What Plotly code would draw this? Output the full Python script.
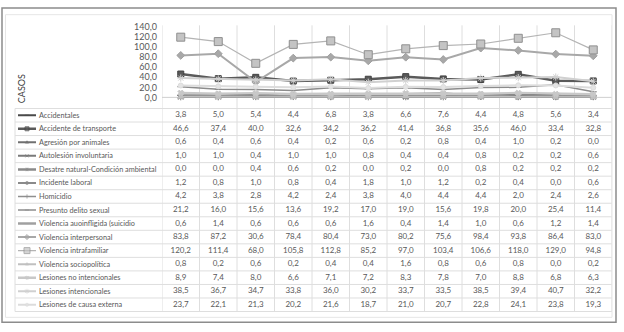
import plotly.graph_objects as go

W, H = 624, 332

months = ["ene", "feb", "mar", "abr", "may", "jun", "jul", "ago", "sep", "oct", "nov", "dic"]

series_names = [
    "Accidentales",
    "Accidente de transporte",
    "Agresión por animales",
    "Autolesión involuntaria",
    "Desatre natural-Condición ambiental",
    "Incidente laboral",
    "Homicidio",
    "Presunto delito sexual",
    "Violencia auoinfligida (suicidio",
    "Violencia interpersonal",
    "Violencia intrafamiliar",
    "Violencia sociopolítica",
    "Lesiones no intencionales",
    "Lesiones intencionales",
    "Lesiones de causa externa",
]

accidentales = [3.8, 5.0, 5.4, 4.4, 6.8, 3.8, 6.6, 7.6, 4.4, 4.8, 5.6, 3.4]
accidente_transporte = [46.6, 37.4, 40.0, 32.6, 34.2, 36.2, 41.4, 36.8, 35.6, 46.0, 33.4, 32.8]
agresion_animales = [0.6, 0.4, 0.6, 0.4, 0.2, 0.6, 0.2, 0.8, 0.4, 1.0, 0.2, 0.0]
autolesion_involuntaria = [1.0, 1.0, 0.4, 1.0, 1.0, 0.8, 0.4, 0.4, 0.8, 0.2, 0.2, 0.6]
desastre_natural = [0.0, 0.0, 0.4, 0.6, 0.2, 0.0, 0.2, 0.0, 0.8, 0.2, 0.2, 0.2]
incidente_laboral = [1.2, 0.8, 1.0, 0.8, 0.4, 1.8, 1.0, 1.2, 0.2, 0.4, 0.0, 0.6]
homicidio = [4.2, 3.8, 2.8, 4.2, 2.4, 3.8, 4.0, 4.4, 4.4, 2.0, 2.4, 2.6]
presunto_delito_sexual = [21.2, 16.0, 15.6, 13.6, 19.2, 17.0, 19.0, 15.6, 19.8, 20.0, 25.4, 11.4]
violencia_autoinfligida = [0.6, 1.4, 0.6, 0.6, 0.6, 1.6, 0.4, 1.4, 1.0, 0.6, 1.2, 1.4]
violencia_interpersonal = [83.8, 87.2, 30.6, 78.4, 80.4, 73.0, 80.2, 75.6, 98.4, 93.8, 86.4, 83.0]
violencia_intrafamiliar = [120.2, 111.4, 68.0, 105.8, 112.8, 85.2, 97.0, 103.4, 106.6, 118.0, 129.0, 94.8]
violencia_sociopolitica = [0.8, 0.2, 0.6, 0.2, 0.4, 0.4, 1.6, 0.8, 0.6, 0.8, 0.0, 0.2]
lesiones_no_intencionales = [8.9, 7.4, 8.0, 6.6, 7.1, 7.2, 8.3, 7.8, 7.0, 8.8, 6.8, 6.3]
lesiones_intencionales = [38.5, 36.7, 34.7, 33.8, 36.0, 30.2, 33.7, 33.5, 38.5, 39.4, 40.7, 32.2]
lesiones_causa_externa = [23.7, 22.1, 21.3, 20.2, 21.6, 18.7, 21.0, 20.7, 22.8, 24.1, 23.8, 19.3]

series_values = [
    accidentales, accidente_transporte, agresion_animales, autolesion_involuntaria,
    desastre_natural, incidente_laboral, homicidio, presunto_delito_sexual,
    violencia_autoinfligida, violencia_interpersonal, violencia_intrafamiliar,
    violencia_sociopolitica, lesiones_no_intencionales, lesiones_intencionales,
    lesiones_causa_externa,
]

y_ticks = [0, 20, 40, 60, 80, 100, 120, 140]
axis_title = "CASOS"

# styles: (line colour, line width, marker symbol, marker size, marker fill, marker outline)
styles = [
    ("#4a4a4a", 2.0, "line-ew", 5, "#4a4a4a", "#4a4a4a"),
    ("#5a5a5a", 2.5, "square", 6, "#5a5a5a", "#404040"),
    ("#707070", 2.0, "triangle-up", 5, "#707070", "#707070"),
    ("#7a7a7a", 2.0, "x-thin", 5, "#7a7a7a", "#7a7a7a"),
    ("#8a8a8a", 2.5, "asterisk", 5, "#8a8a8a", "#8a8a8a"),
    ("#8a8a8a", 2.0, "circle", 4, "#8a8a8a", "#8a8a8a"),
    ("#8f8f8f", 1.5, "cross-thin", 5, "#8f8f8f", "#8f8f8f"),
    ("#8c8c8c", 1.5, "line-ew", 5, "#8c8c8c", "#8c8c8c"),
    ("#a0a0a0", 2.5, "line-ew", 3, "#a0a0a0", "#a0a0a0"),
    ("#a8a8a8", 2.0, "diamond", 6, "#a8a8a8", "#a0a0a0"),
    ("#b4b4b4", 1.2, "square", 8, "#c4c4c4", "#8f8f8f"),
    ("#c0c0c0", 2.0, "triangle-up", 5, "#c0c0c0", "#c0c0c0"),
    ("#c8c8c8", 2.5, "x", 5, "#c8c8c8", "#c8c8c8"),
    ("#d0d0d0", 2.0, "asterisk", 6, "#d0d0d0", "#d0d0d0"),
    ("#dcdcdc", 2.0, "circle", 5, "#e4e4e4", "#dcdcdc"),
]

FONT = "Lato"
TXT = "#595959"
GRID = "#dedede"


def fx(p):
    return p / W


def fy(p):
    return 1 - p / H


# pixel geometry
PL, PR = 162, 612          # plot/table month columns
PT, PB = 22, 94.5          # y=140 and y=0
TT, RH = 106, 14           # table top, row height
NR = len(series_names)
TB = TT + RH * NR          # table bottom
LL = 15                    # table left edge

fig = go.Figure()

# chart lines
for name, vals, st in zip(series_names, series_values, styles):
    col, lw, sym, ms, fill, outl = st
    fig.add_trace(go.Scatter(
        x=months, y=vals, mode="lines+markers", name=name,
        line=dict(color=col, width=lw),
        marker=dict(symbol=sym, size=ms, color=fill,
                    line=dict(color=outl, width=1)),
        cliponaxis=False, showlegend=False, hoverinfo="skip",
        xaxis="x", yaxis="y",
    ))

# month header row (category labels)
fig.add_trace(go.Scatter(
    x=months, y=[-0.95] * len(months), text=months, mode="text",
    textposition="middle center", cliponaxis=False,
    textfont=dict(family=FONT, size=8.5, color=TXT),
    showlegend=False, hoverinfo="skip", xaxis="x2", yaxis="y2",
))

# table numbers
tx, ty, tt = [], [], []
for i, vals in enumerate(series_values):
    for m, v in zip(months, vals):
        tx.append(m)
        ty.append(i)
        tt.append(f"{v:.1f}".replace(".", ","))
fig.add_trace(go.Scatter(
    x=tx, y=ty, text=tt, mode="text", textposition="middle center",
    textfont=dict(family=FONT, size=8, color=TXT),
    showlegend=False, hoverinfo="skip", xaxis="x2", yaxis="y2",
))

# legend keys in the label column (x3 in pixel units)
for i, st in enumerate(styles):
    col, lw, sym, ms, fill, outl = st
    fig.add_trace(go.Scatter(
        x=[18, 27, 36], y=[i, i, i], mode="lines+markers",
        line=dict(color=col, width=lw),
        marker=dict(symbol=sym, size=[0, max(ms - 2, 3), 0], color=fill,
                    line=dict(color=outl, width=1)),
        cliponaxis=False, showlegend=False, hoverinfo="skip",
        xaxis="x3", yaxis="y2",
    ))

annotations = []
for i, name in enumerate(series_names):
    annotations.append(dict(
        x=37, y=i, xref="x3", yref="y2", text=name, showarrow=False,
        xanchor="left", yanchor="middle",
        font=dict(family=FONT, size=7.3, color=TXT),
    ))
annotations.append(dict(
    x=fx(21), y=fy(86), xref="paper", yref="paper", text=axis_title,
    showarrow=False, textangle=-90, xanchor="center", yanchor="middle",
    font=dict(family=FONT, size=9, color="#404040"),
))

shapes = []
# outer frames
shapes.append(dict(type="rect", xref="paper", yref="paper",
                   x0=fx(2), x1=fx(616), y0=fy(327), y1=fy(2),
                   line=dict(color="#8c8c8c", width=1.5)))
shapes.append(dict(type="rect", xref="paper", yref="paper",
                   x0=fx(5.5), x1=fx(PR), y0=fy(322), y1=fy(9),
                   line=dict(color="#e6e6e6", width=1)))
# vertical grid / column lines
for k in range(len(months) + 1):
    shapes.append(dict(type="line", xref="x", yref="paper",
                       x0=k - 0.5, x1=k - 0.5, y0=fy(TB), y1=fy(20),
                       line=dict(color=GRID, width=1), layer="below"))
# table left border
shapes.append(dict(type="line", xref="paper", yref="paper",
                   x0=fx(LL), x1=fx(LL), y0=fy(TB), y1=fy(TT),
                   line=dict(color=GRID, width=1), layer="below"))
# horizontal table lines
for k in range(NR + 1):
    yy = TT + RH * k
    shapes.append(dict(type="line", xref="paper", yref="paper",
                       x0=fx(LL), x1=fx(PR), y0=fy(yy), y1=fy(yy),
                       line=dict(color=GRID, width=1), layer="below"))
# axis baseline
shapes.append(dict(type="line", xref="paper", yref="paper",
                   x0=fx(PL), x1=fx(PR), y0=fy(PB), y1=fy(PB),
                   line=dict(color="#cfcfcf", width=1), layer="below"))

fig.update_layout(
    width=W, height=H, margin=dict(l=0, r=0, t=0, b=0),
    paper_bgcolor="white", plot_bgcolor="rgba(0,0,0,0)",
    separators=",.",
    font=dict(family=FONT, size=9, color=TXT),
    xaxis=dict(domain=[fx(PL), fx(PR)], type="category", categoryorder="array",
               categoryarray=months, range=[-0.5, len(months) - 0.5],
               showgrid=False, zeroline=False, showline=False, ticks="",
               showticklabels=False, anchor="y"),
    yaxis=dict(domain=[fy(PB), fy(PT)], range=[0, 140], tickvals=y_ticks,
               tickformat=".1f", showgrid=False, zeroline=False, showline=False,
               ticks="", ticklabelstandoff=4,
               tickfont=dict(family=FONT, size=9, color=TXT), anchor="x"),
    xaxis2=dict(domain=[fx(PL), fx(PR)], type="category", categoryorder="array",
                categoryarray=months, range=[-0.5, len(months) - 0.5],
                visible=False, anchor="y2"),
    yaxis2=dict(domain=[fy(TB), fy(TT)], range=[NR - 0.5, -0.5],
                visible=False, anchor="x2"),
    xaxis3=dict(domain=[fx(LL), fx(PL)], range=[LL, PL], visible=False,
                anchor="y2"),
    annotations=annotations,
    shapes=shapes,
)

fig.write_html(
    "out.html",
    config={"displayModeBar": False, "staticPlot": True},
    post_script="document.body.style.margin='0';document.body.style.overflow='hidden';",
)
